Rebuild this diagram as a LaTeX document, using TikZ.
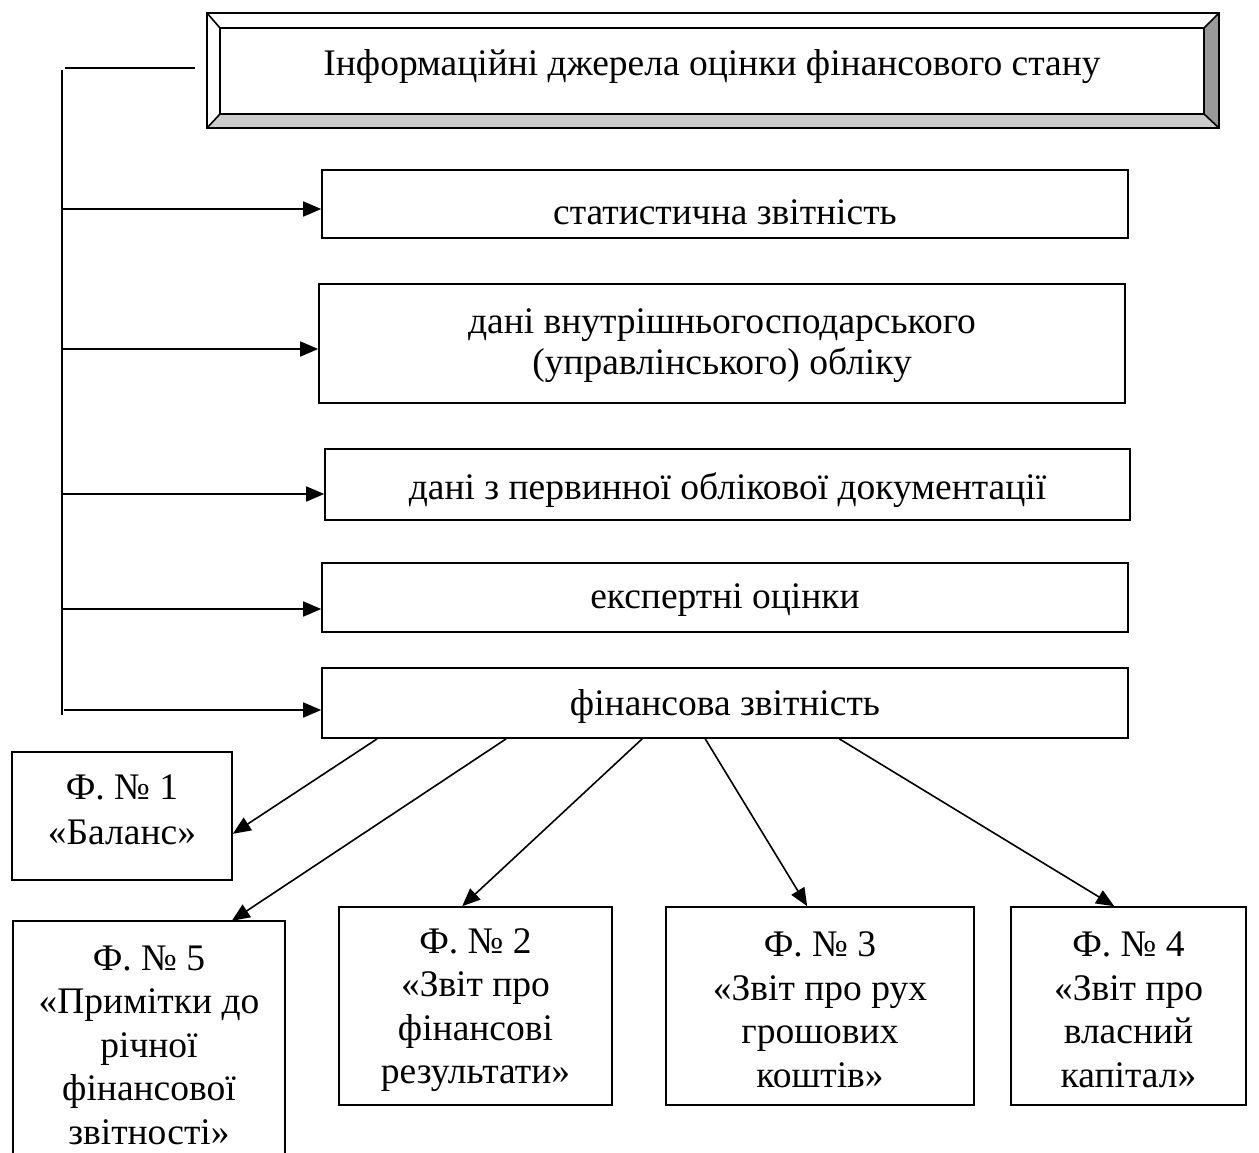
\documentclass[tikz,border=0pt]{standalone}
\usepackage{fontspec}
\setmainfont{Liberation Serif}
\usetikzlibrary{arrows.meta}
\begin{document}
\begin{tikzpicture}[x=1pt,y=-1pt,
 box/.style={draw,line width=1.6pt,inner sep=0pt},
 txt/.style={align=center,inner sep=0pt,font=\fontsize{37.5}{43.5}\selectfont},
 arr/.style={line width=1.6pt,-{Triangle[length=18pt,width=15pt]}},
 ln/.style={line width=1.6pt}]
\useasboundingbox (0,0) rectangle (1259,1153);
% title bevel box
\fill[white] (207,13) rectangle (1219,128);
\fill[gray!40] (207,128) -- (220,114) -- (1204,114) -- (1219,128) -- cycle;
\fill[gray!80] (1219,13) -- (1204,28) -- (1204,114) -- (1219,128) -- cycle;
\draw[ln] (207,13) rectangle (1219,128);
\draw[ln] (220,28) rectangle (1204,114);
\draw[ln] (207,13) -- (220,28) (1219,13) -- (1204,28) (207,128) -- (220,114) (1219,128) -- (1204,114);
\node[txt] (title) at (712,67) {Інформаційні джерела оцінки фінансового стану};
% list boxes
\node[box,minimum width=806pt,minimum height=68pt] (s1) at (725,204) {};
\node[txt] (t1) at (725,212) {статистична звітність};
\node[box,minimum width=806pt,minimum height=119pt] (s2) at (722,343.5) {};
\node[txt,font=\fontsize{37.5}{41}\selectfont] (t2) at (722,346) {дані внутрішньогосподарського\\(управлінського) обліку};
\node[box,minimum width=805pt,minimum height=71pt] (s3) at (727.5,484.5) {};
\node[txt] (t3) at (727.5,490) {дані з первинної облікової документації};
\node[box,minimum width=806pt,minimum height=69pt] (s4) at (725,597.5) {};
\node[txt] (t4) at (725,600) {експертні оцінки};
\node[box,minimum width=806pt,minimum height=70pt] (s5) at (725,703) {};
\node[txt] (t5) at (725,706) {фінансова звітність};
% spine
\coordinate (tl) at (65,68);
\coordinate (tr) at (195,68);
\coordinate (sp0) at (62,70);
\coordinate (sp1) at (62,715);
\draw[ln] (tl) -- (tr);
\draw[ln] (sp0) -- (sp1);
\coordinate (a1) at (62,209);
\coordinate (a2) at (62,349);
\coordinate (a3) at (62,494);
\coordinate (a4) at (62,609);
\coordinate (a5) at (64,710);
\draw[arr] (a1) -- (a1 -| s1.west);
\draw[arr] (a2) -- (a2 -| s2.west);
\draw[arr] (a3) -- (a3 -| s3.west);
\draw[arr] (a4) -- (a4 -| s4.west);
\draw[arr] (a5) -- (a5 -| s5.west);
% forms
\node[box,minimum width=220pt,minimum height=128pt] (f1) at (122,816) {};
\node[txt,font=\fontsize{37.5}{45}\selectfont] (tf1) at (122,810) {Ф. № 1\\«Баланс»};
\node[inner sep=0pt,minimum width=272pt,minimum height=252pt] (f5) at (149,1047) {};
\draw[ln] (f5.south west) -- (f5.north west) -- (f5.north east) -- (f5.south east);
\node[txt] (tf5) at (149,1045) {Ф. № 5\\«Примітки до\\річної\\фінансової\\звітності»};
\node[box,minimum width=273pt,minimum height=198pt] (f2) at (475.5,1006) {};
\node[txt] (tf2) at (475.5,1010) {Ф. № 2\\«Звіт про\\фінансові\\результати»};
\node[box,minimum width=308pt,minimum height=198pt] (f3) at (820,1006) {};
\node[txt] (tf3) at (820,1010) {Ф. № 3\\«Звіт про рух\\грошових\\коштів»};
\node[box,minimum width=235pt,minimum height=198pt] (f4) at (1128.5,1006) {};
\node[txt] (tf4) at (1128.5,1010) {Ф. № 4\\«Звіт про\\власний\\капітал»};
\draw[arr] ([xshift=56pt]s5.south west) -- ([yshift=47pt]f1.south east);
\draw[arr] ([xshift=185pt]s5.south west) -- ([xshift=219pt]f5.north west);
\draw[arr] ([xshift=321pt]s5.south west) -- ([xshift=124pt]f2.north west);
\draw[arr] ([xshift=384pt]s5.south west) -- ([xshift=142pt]f3.north west);
\draw[arr] ([xshift=518pt]s5.south west) -- ([xshift=104pt]f4.north west);
\end{tikzpicture}
\end{document}
